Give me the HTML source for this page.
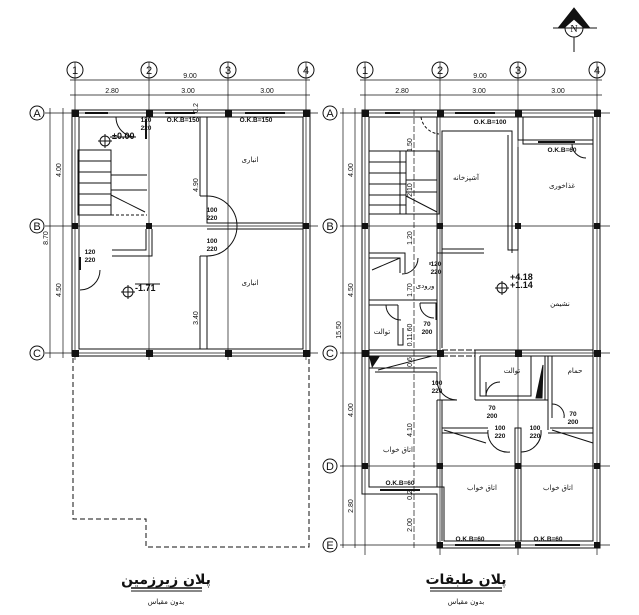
<!DOCTYPE html>
<html><head><meta charset="utf-8"><style>
html,body{margin:0;padding:0;background:#fff;}
svg{display:block;}
text{font-family:"Liberation Sans","DejaVu Sans",sans-serif;fill:#111;}
.t{font-size:6.5px;font-weight:bold;}
.ar{font-family:"DejaVu Sans",sans-serif;font-size:7px;}
.g{font-family:"Liberation Serif",serif;font-size:11px;}
</style></head><body>
<svg width="639" height="615" viewBox="0 0 639 615" xmlns="http://www.w3.org/2000/svg">
<rect width="639" height="615" fill="#fff"/>
<g stroke="#111" fill="none" stroke-width="1">
<!-- ================= LEFT PLAN ================= -->
<!-- grid lines -->
<g stroke-width="0.7">
<line x1="75" y1="62" x2="75" y2="360"/><line x1="149" y1="62" x2="149" y2="360"/>
<line x1="228" y1="62" x2="228" y2="360"/><line x1="306" y1="62" x2="306" y2="360"/>
<line x1="45" y1="113" x2="318" y2="113"/><line x1="45" y1="226" x2="318" y2="226"/><line x1="45" y1="353" x2="318" y2="353"/>
<line x1="70" y1="80" x2="310" y2="80"/><line x1="70" y1="95" x2="310" y2="95"/>
<line x1="50" y1="108" x2="50" y2="358"/><line x1="63" y1="108" x2="63" y2="358"/>
</g>
<circle cx="75" cy="70" r="8"/><circle cx="149" cy="70" r="8"/><circle cx="228" cy="70" r="8"/><circle cx="306" cy="70" r="8"/>
<circle cx="37" cy="113" r="7"/><circle cx="37" cy="226" r="7"/><circle cx="37" cy="353" r="7"/>
<!-- outer walls -->
<rect x="72" y="110" width="238" height="246"/>
<rect x="79" y="117" width="224" height="232"/>
<!-- middle partition -->
<polyline points="200,117 200,196"/><polyline points="207,117 207,223 303,223"/>
<polyline points="207,229 303,229"/><polyline points="207,256 207,349"/><polyline points="200,256 200,349"/>
<line x1="200" y1="196" x2="207" y2="196"/><line x1="200" y1="256" x2="207" y2="256"/>
<path d="M207,196 A30,30 0 0 1 207,256"/>
<!-- stair -->
<rect x="78" y="150" width="33" height="65"/>
<line x1="78" y1="161" x2="111" y2="161"/><line x1="78" y1="172" x2="111" y2="172"/><line x1="78" y1="183" x2="111" y2="183"/>
<line x1="78" y1="194" x2="111" y2="194"/><line x1="78" y1="205" x2="111" y2="205"/>
<line x1="111" y1="175" x2="147" y2="175"/><line x1="111" y1="190" x2="147" y2="190"/>
<line x1="111" y1="195" x2="145" y2="212"/>
<line x1="111" y1="215" x2="147" y2="215" stroke-dasharray="3,2"/>
<polyline points="112,250 146,250 146,229"/><polyline points="112,256 152,256 152,229"/>
<line x1="80" y1="257" x2="80" y2="270" stroke-width="2"/>
<path d="M80,290 A20,20 0 0 0 100,270"/>
<path d="M116,117 A20,20 0 0 0 136,137"/>
<line x1="146" y1="119" x2="146" y2="139" stroke-width="2"/>
<!-- windows -->
<g stroke-width="2"><line x1="85" y1="113" x2="108" y2="113"/><line x1="165" y1="113" x2="195" y2="113"/><line x1="245" y1="113" x2="285" y2="113"/></g>
<!-- dashed outline -->
<polyline points="73,358 73,519 146,519 146,547 309,547 309,358" stroke-dasharray="5,3"/>
<!-- ================= RIGHT PLAN ================= -->
<g stroke-width="0.7">
<line x1="365" y1="62" x2="365" y2="555"/><line x1="440" y1="62" x2="440" y2="555"/>
<line x1="518" y1="62" x2="518" y2="555"/><line x1="597" y1="62" x2="597" y2="555"/>
<line x1="340" y1="113" x2="610" y2="113"/><line x1="340" y1="226" x2="610" y2="226"/><line x1="340" y1="353" x2="610" y2="353"/>
<line x1="340" y1="466" x2="610" y2="466"/><line x1="340" y1="545" x2="610" y2="545"/>
<line x1="360" y1="80" x2="602" y2="80"/><line x1="360" y1="95" x2="602" y2="95"/>
<line x1="343" y1="108" x2="343" y2="548"/><line x1="355" y1="108" x2="355" y2="548"/>
<line x1="414" y1="110" x2="414" y2="548" stroke-dasharray="6,2"/>
</g>
<circle cx="365" cy="70" r="8"/><circle cx="440" cy="70" r="8"/><circle cx="518" cy="70" r="8"/><circle cx="597" cy="70" r="8"/>
<circle cx="330" cy="113" r="7"/><circle cx="330" cy="226" r="7"/><circle cx="330" cy="353" r="7"/><circle cx="330" cy="466" r="7"/><circle cx="330" cy="545" r="7"/>
<polygon points="362,110 600,110 600,548 437,548 437,494 362,494"/>
<polygon points="369,117 593,117 593,541 444,541 444,487 369,487"/>
<!-- kitchen -->
<polyline points="437,117 437,253 484,253"/><polyline points="442,253 442,131 512,131 512,253"/>
<line x1="442" y1="249" x2="484" y2="249"/><polyline points="508,135 508,250 518,250 518,147"/>
<!-- top right -->
<polyline points="518,117 518,140 593,140"/><polyline points="523,117 523,144 593,144"/>
<path d="M572,144 A14,14 0 0 0 586,158"/>
<!-- stairs -->
<rect x="369" y="151" width="70" height="63"/>
<line x1="369" y1="162" x2="406" y2="162"/><line x1="369" y1="173" x2="406" y2="173"/><line x1="369" y1="184" x2="406" y2="184"/><line x1="369" y1="195" x2="406" y2="195"/><line x1="369" y1="205" x2="406" y2="205"/>
<rect x="400" y="151" width="6" height="63"/>
<line x1="406" y1="180" x2="437" y2="180"/><line x1="406" y1="192" x2="437" y2="192"/><line x1="406" y1="196" x2="437" y2="212"/>
<path d="M421,117 A20,20 0 0 0 439,134" stroke-dasharray="3,2"/>
<!-- left small rooms -->
<polyline points="369,253 405,253 405,273"/><polyline points="369,258 400,258 400,273"/>
<line x1="372" y1="270" x2="400" y2="258"/>
<polyline points="369,300 437,300"/><polyline points="369,305 398,305"/>
<polyline points="398,305 398,345 403,345 403,328"/>
<polyline points="437,253 437,350"/><polyline points="442,253 442,348"/>
<polyline points="420,303 436,303 436,320"/><path d="M420,303 A14,14 0 0 0 434,318"/>
<path d="M386,305 A15,15 0 0 0 401,320"/>
<line x1="430" y1="262" x2="430" y2="265"/><path d="M418,258 A16,16 0 0 1 402,274"/>
<!-- row C wall -->
<line x1="369" y1="350" x2="437" y2="350"/><line x1="369" y1="356" x2="437" y2="356"/>
<line x1="442" y1="350" x2="475" y2="350" stroke-dasharray="6,2"/><line x1="442" y1="356" x2="475" y2="356" stroke-dasharray="6,2"/>
<line x1="475" y1="350" x2="593" y2="350"/><line x1="480" y1="356" x2="593" y2="356"/>
<polyline points="369,368 437,368"/><polyline points="375,372 437,372"/>
<line x1="378" y1="370" x2="432" y2="356"/>
<!-- toilet/bath -->
<polyline points="475,350 475,400"/><polyline points="480,356 480,396 531,396 531,356"/>
<polyline points="475,400 548,400 548,356"/><polyline points="545,356 545,400"/>
<polyline points="548,400 548,430"/><polyline points="552,356 552,418"/>
<path d="M486,396 A14,14 0 0 1 500,382"/><line x1="486" y1="382" x2="486" y2="396"/>
<path d="M552,404 A12,12 0 0 1 564,418"/>
<polygon points="536,398 542,398 543,365" fill="#111"/>
<!-- bedrooms -->
<polyline points="437,372 437,380"/><polyline points="442,400 442,541"/><polyline points="437,400 437,487"/>
<path d="M437,380 A20,20 0 0 0 457,400"/><line x1="437" y1="400" x2="457" y2="400"/>
<line x1="442" y1="428" x2="488" y2="428"/><line x1="442" y1="433" x2="488" y2="433"/>
<line x1="444" y1="430" x2="486" y2="443"/>
<rect x="515" y="428" width="6" height="113"/>
<path d="M488,430 A20,20 0 0 0 510,452"/><path d="M541,430 A20,20 0 0 1 521,452"/>
<line x1="550" y1="428" x2="593" y2="428"/><line x1="548" y1="433" x2="593" y2="433"/>
<line x1="552" y1="430" x2="593" y2="443"/>
<line x1="369" y1="372" x2="369" y2="487"/>
<!-- windows right -->
<g stroke-width="2"><line x1="385" y1="113" x2="400" y2="113"/><line x1="455" y1="113" x2="495" y2="113"/>
<line x1="538" y1="142" x2="575" y2="142"/><line x1="380" y1="490" x2="420" y2="490"/>
<line x1="455" y1="545" x2="500" y2="545"/><line x1="535" y1="545" x2="580" y2="545"/></g>
</g>
<!-- columns -->
<g fill="#111">
<rect x="72" y="110" width="7" height="7"/><rect x="146" y="110" width="7" height="7"/><rect x="225" y="110" width="7" height="7"/><rect x="303" y="110" width="7" height="7"/>
<rect x="72" y="223" width="6" height="6"/><rect x="146" y="223" width="6" height="6"/><rect x="303" y="223" width="6" height="6"/>
<rect x="72" y="350" width="7" height="7"/><rect x="146" y="350" width="7" height="7"/><rect x="225" y="350" width="7" height="7"/><rect x="303" y="350" width="7" height="7"/>
<rect x="362" y="110" width="7" height="7"/><rect x="437" y="110" width="7" height="7"/><rect x="515" y="110" width="7" height="7"/><rect x="594" y="110" width="7" height="7"/>
<rect x="362" y="223" width="6" height="6"/><rect x="437" y="223" width="6" height="6"/><rect x="515" y="223" width="6" height="6"/><rect x="594" y="223" width="6" height="6"/>
<rect x="362" y="350" width="7" height="7"/><rect x="437" y="350" width="7" height="7"/><rect x="515" y="350" width="7" height="7"/><rect x="594" y="350" width="7" height="7"/>
<rect x="362" y="463" width="6" height="6"/><rect x="437" y="463" width="6" height="6"/><rect x="515" y="463" width="6" height="6"/><rect x="594" y="463" width="6" height="6"/>
<rect x="437" y="542" width="6" height="6"/><rect x="515" y="542" width="6" height="6"/><rect x="594" y="542" width="6" height="6"/>
<polygon points="369,356 380,356 372,368" />
</g>
<!-- level symbols -->
<g stroke="#111" fill="none"><circle cx="105" cy="141" r="5"/><circle cx="128" cy="292" r="5"/><circle cx="502" cy="288" r="5"/>
<line x1="98" y1="141" x2="112" y2="141"/><line x1="121" y1="292" x2="135" y2="292"/><line x1="495" y1="288" x2="509" y2="288"/>
<line x1="105" y1="134" x2="105" y2="148"/><line x1="128" y1="285" x2="128" y2="299"/><line x1="502" y1="281" x2="502" y2="295"/>
<line x1="135" y1="284" x2="160" y2="284"/><line x1="110" y1="137" x2="136" y2="137"/></g>
<!-- north -->
<g stroke="#111"><circle cx="574" cy="28" r="9" fill="#fff"/><line x1="574" y1="37" x2="574" y2="52"/><line x1="553" y1="28" x2="597" y2="28"/>
<polygon points="574,8 559,27 565,27 574,19 583,27 589,27" fill="#111"/></g>
<text x="574" y="32" text-anchor="middle" style="font-size:10px;font-family:'Liberation Serif',serif">N</text>
<!-- grid labels -->
<g class="g" text-anchor="middle">
<text x="75" y="74">1</text><text x="149" y="74">2</text><text x="228" y="74">3</text><text x="306" y="74">4</text>
<text x="365" y="74">1</text><text x="440" y="74">2</text><text x="518" y="74">3</text><text x="597" y="74">4</text>
<text x="37" y="117">A</text><text x="37" y="230">B</text><text x="37" y="357">C</text>
<text x="330" y="117">A</text><text x="330" y="230">B</text><text x="330" y="357">C</text><text x="330" y="470">D</text><text x="330" y="549">E</text>
</g>
<!-- dimensions -->
<g class="t" text-anchor="middle" style="font-weight:normal;font-size:7px">
<text x="190" y="78">9.00</text><text x="112" y="93">2.80</text><text x="188" y="93">3.00</text><text x="267" y="93">3.00</text>
<text x="480" y="78">9.00</text><text x="402" y="93">2.80</text><text x="479" y="93">3.00</text><text x="558" y="93">3.00</text>
<text transform="translate(48,238) rotate(-90)">8.70</text>
<text transform="translate(61,170) rotate(-90)">4.00</text><text transform="translate(61,290) rotate(-90)">4.50</text>
<text transform="translate(198,185) rotate(-90)">4.90</text><text transform="translate(198,318) rotate(-90)">3.40</text>
<text transform="translate(198,108) rotate(-90)">0.2</text>
<text transform="translate(341,330) rotate(-90)">15.50</text>
<text transform="translate(353,170) rotate(-90)">4.00</text><text transform="translate(353,290) rotate(-90)">4.50</text>
<text transform="translate(353,410) rotate(-90)">4.00</text><text transform="translate(353,506) rotate(-90)">2.80</text>
<text transform="translate(412,145) rotate(-90)">1.50</text><text transform="translate(412,190) rotate(-90)">2.10</text>
<text transform="translate(412,238) rotate(-90)">1.20</text><text transform="translate(412,290) rotate(-90)">1.70</text>
<text transform="translate(412,335) rotate(-90)">0.11.60</text><text transform="translate(412,362) rotate(-90)">0.6</text>
<text transform="translate(412,430) rotate(-90)">4.10</text><text transform="translate(412,495) rotate(-90)">0.2</text>
<text transform="translate(412,525) rotate(-90)">2.00</text>
</g>
<g class="t" text-anchor="middle">
<text x="183" y="122">O.K.B=150</text><text x="256" y="122">O.K.B=150</text>
<text x="146" y="122">120</text><text x="146" y="130">220</text>
<text x="212" y="212">100</text><text x="212" y="220">220</text><text x="212" y="243">100</text><text x="212" y="251">220</text>
<text x="90" y="254">120</text><text x="90" y="262">220</text>
<text x="490" y="124">O.K.B=100</text><text x="562" y="152">O.K.B=60</text>
<text x="436" y="266">120</text><text x="436" y="274">220</text>
<text x="427" y="326">70</text><text x="427" y="334">200</text>
<text x="437" y="385">100</text><text x="437" y="393">220</text>
<text x="492" y="410">70</text><text x="492" y="418">200</text>
<text x="573" y="416">70</text><text x="573" y="424">200</text>
<text x="500" y="430">100</text><text x="500" y="438">220</text><text x="535" y="430">100</text><text x="535" y="438">220</text>
<text x="400" y="485">O.K.B=60</text><text x="470" y="541">O.K.B=60</text><text x="548" y="541">O.K.B=60</text>
</g>
<g class="t" style="font-size:9px">
<text x="112" y="139">±0.00</text><text x="135" y="291">-1.71</text>
<text x="510" y="280">+4.18</text><text x="510" y="288">+1.14</text>
</g>
<!-- room names -->
<g class="ar" text-anchor="middle">
<text x="250" y="162">انباری</text><text x="250" y="285">انباری</text>
<text x="466" y="180">آشپزخانه</text><text x="562" y="188">غذاخوری</text><text x="560" y="306">نشیمن</text>
<text x="425" y="288">ورودی</text><text x="382" y="334">توالت</text>
<text x="512" y="373">توالت</text><text x="575" y="373">حمام</text>
<text x="398" y="452">اتاق خواب</text><text x="482" y="490">اتاق خواب</text><text x="558" y="490">اتاق خواب</text>
</g>
<!-- titles -->
<g text-anchor="middle">
<text x="166" y="584" style="font-family:'DejaVu Sans',sans-serif;font-size:14px;font-weight:bold">پلان زیرزمین</text>
<text x="466" y="584" style="font-family:'DejaVu Sans',sans-serif;font-size:14px;font-weight:bold">پلان طبقات</text>
<text x="166" y="604" class="ar">بدون مقیاس</text><text x="466" y="604" class="ar">بدون مقیاس</text>
</g>
<g stroke="#111"><line x1="131" y1="588" x2="202" y2="588" stroke-width="1.5"/><line x1="131" y1="591" x2="202" y2="591"/>
<line x1="430" y1="588" x2="502" y2="588" stroke-width="1.5"/><line x1="430" y1="591" x2="502" y2="591"/></g>
</svg>
</body></html>
